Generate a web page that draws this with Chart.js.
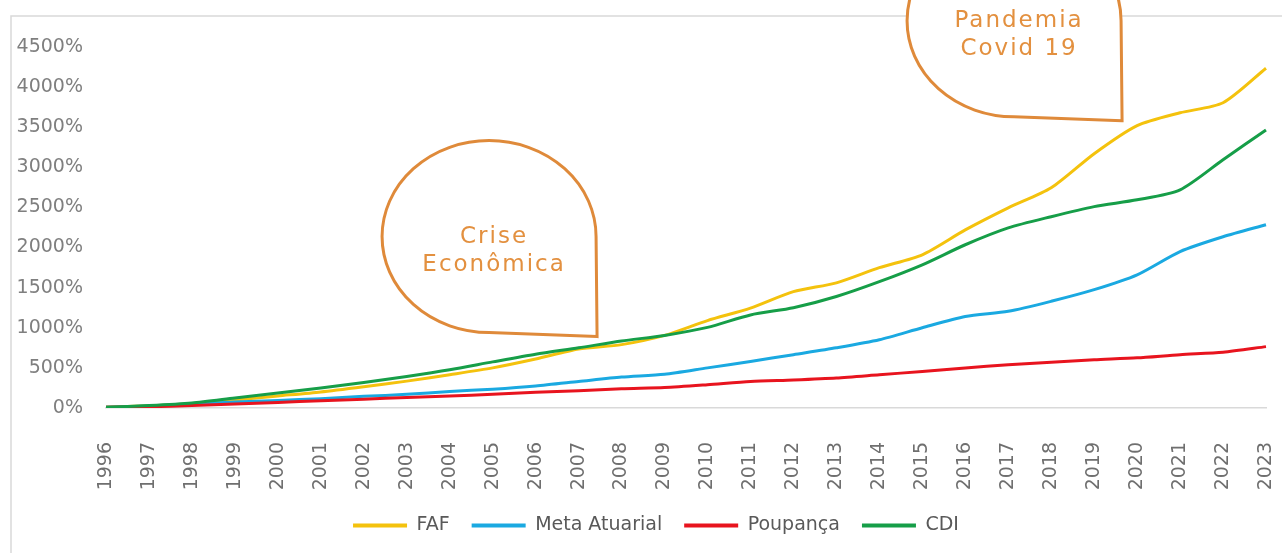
<!DOCTYPE html>
<html>
<head>
<meta charset="utf-8">
<script src="https://cdn.jsdelivr.net/npm/chart.js@4.4.1/dist/chart.umd.min.js"></script>
<style>
  html, body { margin: 0; padding: 0; background: #fff; }
  #wrap { width: 1282px; height: 553px; }
</style>
</head>
<body>
<div id="wrap"><canvas id="myChart" width="1282" height="553"></canvas></div>
<script>
// Data (accumulated return, %)
var years = ['1996', '1997', '1998', '1999', '2000', '2001', '2002', '2003', '2004', '2005',
  '2006', '2007', '2008', '2009', '2010', '2011', '2012', '2013', '2014', '2015',
  '2016', '2017', '2018', '2019', '2020', '2021', '2022', '2023'];

var faf = [10, 28, 50, 100, 150, 200, 265, 335, 415, 500, 610, 735, 790, 905, 1090, 1245,
  1450, 1560, 1750, 1910, 2220, 2495, 2745, 3170, 3520, 3680, 3805, 4235];
var metaAtuarial = [10, 25, 50, 75, 95, 115, 145, 170, 205, 235, 275, 330, 385, 420, 500, 580,
  665, 750, 850, 1000, 1140, 1205, 1330, 1475, 1660, 1950, 2135, 2285];
var poupanca = [10, 15, 30, 50, 70, 90, 110, 130, 150, 170, 195, 215, 240, 255, 290, 330,
  350, 375, 415, 455, 500, 540, 570, 600, 625, 665, 695, 765];
var cdi = [10, 30, 62, 125, 187, 249, 319, 394, 477, 575, 670, 750, 835, 905, 1005, 1160,
  1250, 1390, 1575, 1785, 2035, 2245, 2385, 2510, 2595, 2720, 3095, 3465];

var yTicks = [0, 500, 1000, 1500, 2000, 2500, 3000, 3500, 4000, 4500];

// callouts: tip anchored in data units (fractional category index, value %)
var noteLines = [['Crise', 'Econômica'], ['Pandemia', 'Covid 19']];
var noteAt = [11.43, 23.65];
var noteValue = [890, 3580];

var ORANGE = '#DF8A3A';

var framePlugin = {
  id: 'frame',
  afterLayout: function (chart) {
    // legend sits a bit right of the canvas centre in the original
    chart.legend.left += 23;
    chart.legend.right += 23;
  },
  beforeDraw: function (chart) {
    var ctx = chart.ctx;
    ctx.save();
    ctx.fillStyle = '#fff';
    ctx.fillRect(0, 0, chart.width, chart.height);
    ctx.strokeStyle = '#d9d9d9';
    ctx.lineWidth = 1.5;
    ctx.strokeRect(11, 16, chart.width + 20, chart.height + 20);
    ctx.restore();
  }
};

var calloutPlugin = {
  id: 'callouts',
  afterDatasetsDraw: function (chart) {
    var ctx = chart.ctx;
    var xs = chart.scales.x, ys = chart.scales.y;
    for (var i = 0; i < noteLines.length; i++) {
      var tx = xs.getPixelForValue(noteAt[i]);
      var ty = ys.getPixelForValue(noteValue[i]);
      var cx = tx - 108, cy = ty - 100;
      ctx.save();
      ctx.beginPath();
      ctx.moveTo(tx, ty);
      ctx.lineTo(cx, cy + 96);
      ctx.ellipse(cx, cy, 107, 96, 0, Math.PI / 2, Math.PI * 2);
      ctx.closePath();
      ctx.fillStyle = '#fff';
      ctx.fill();
      ctx.lineWidth = 3;
      ctx.lineJoin = 'miter';
      ctx.strokeStyle = ORANGE;
      ctx.stroke();
      ctx.fillStyle = '#E3903F';
      ctx.font = '23px "DejaVu Sans"';
      ctx.textAlign = 'center';
      ctx.textBaseline = 'middle';
      try { ctx.letterSpacing = '2px'; } catch (e) {}
      ctx.fillText(noteLines[i][0], cx + 5, cy);
      ctx.fillText(noteLines[i][1], cx + 5, cy + 28);
      ctx.restore();
    }
  }
};

var ctx = document.getElementById('myChart').getContext('2d');
var chart = new Chart(ctx, {
  type: 'line',
  data: {
    labels: years,
    datasets: [{
        label: 'FAF',
        data: faf,
        borderColor: '#F4C20D',
        backgroundColor: '#F4C20D',
        order: 4
      },
      {
        label: 'Meta Atuarial',
        data: metaAtuarial,
        borderColor: '#1AA9E1',
        backgroundColor: '#1AA9E1',
        order: 3
      },
      {
        label: 'Poupança',
        data: poupanca,
        borderColor: '#E8141E',
        backgroundColor: '#E8141E',
        order: 2
      },
      {
        label: 'CDI',
        data: cdi,
        borderColor: '#169E48',
        backgroundColor: '#169E48',
        order: 1
      }
    ]
  },
  options: {
    responsive: false,
    animation: false,
    devicePixelRatio: 1,
    layout: { padding: { top: 47, right: 16, left: 0, bottom: 8 } },
    elements: {
      line: { borderWidth: 3, tension: 0.25, cubicInterpolationMode: 'default' },
      point: { radius: 0 }
    },
    plugins: {
      tooltip: { enabled: false },
      legend: {
        position: 'bottom',
        labels: {
          boxWidth: 54,
          boxHeight: 4,
          padding: 22,
          color: '#595959',
          font: { family: 'DejaVu Sans', size: 19 },
          generateLabels: function (chart) {
            return chart.data.datasets.map(function (ds, i) {
              return {
                text: ds.label,
                fillStyle: ds.borderColor,
                strokeStyle: ds.borderColor,
                lineWidth: 0,
                fontColor: '#595959',
                hidden: false,
                datasetIndex: i
              };
            });
          }
        }
      }
    },
    scales: {
      x: {
        grid: { display: false, drawTicks: false },
        border: { display: true, color: '#d9d9d9', width: 1.5 },
        ticks: {
          autoSkip: false,
          minRotation: 90,
          maxRotation: 90,
          padding: 34,
          color: '#6f6f6f',
          font: { family: 'DejaVu Sans', size: 19 }
        },
        afterFit: function (scale) {
          scale.height = 86;
          scale.paddingLeft = 0;
          scale.paddingRight = 0;
        }
      },
      y: {
        min: 0,
        max: 4500,
        grid: { display: false, drawTicks: false },
        border: { display: false },
        afterBuildTicks: function (scale) {
          scale.ticks = yTicks.map(function (v) { return { value: v }; });
        },
        ticks: {
          padding: 23,
          color: '#7f7f7f',
          font: { family: 'DejaVu Sans', size: 19 },
          callback: function (v) { return v + '%'; }
        },
        afterFit: function (scale) { scale.width = 106; }
      }
    }
  },
  plugins: [framePlugin, calloutPlugin]
});
</script>
</body>
</html>
